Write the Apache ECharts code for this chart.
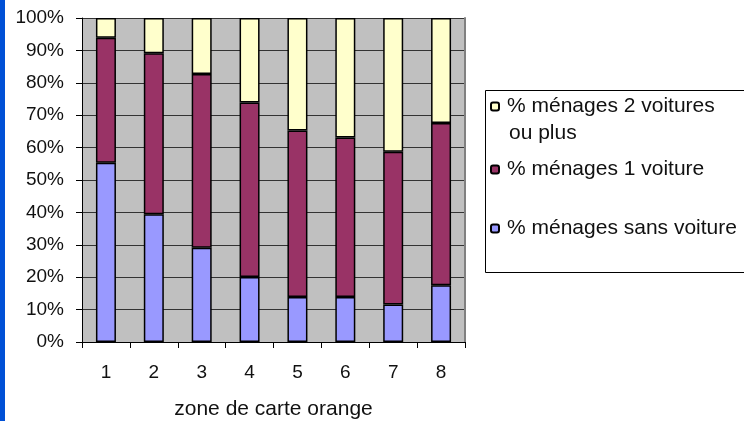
<!DOCTYPE html>
<html>
<head>
<meta charset="utf-8">
<script src="https://cdn.jsdelivr.net/npm/echarts@6/dist/echarts.min.js"></script>
<style>
  html, body { margin: 0; padding: 0; background: #ffffff; }
  #chart { width: 744px; height: 421px; }
</style>
</head>
<body>
<div id="chart"></div>
<script>
// zones de carte orange
const zones = ['1', '2', '3', '4', '5', '6', '7', '8'];
// parts en %
const sansVoiture = [55.3, 39.4, 29.1, 20.1, 13.9, 13.9, 11.6, 17.5];
const uneVoiture = [38.6, 49.7, 53.6, 53.8, 51.4, 49.2, 47.1, 50.1];
const deuxVoitures = [6.1, 10.9, 17.3, 26.1, 34.7, 36.9, 41.3, 32.4];

const font = 'Liberation Sans, Arial, sans-serif';

const chart = echarts.init(document.getElementById('chart'));

function barSerie(name, color, data) {
    return {
        name: name,
        type: 'bar',
        stack: 'total',
        barWidth: 20,
        data: data,
        itemStyle: { color: color, borderColor: '#000', borderWidth: 1.5 }
    };
}

function legendAt(name, top) {
    return {
        data: [name],
        left: 490,
        top: top,
        orient: 'vertical',
        itemWidth: 8,
        itemHeight: 8,
        itemGap: 0,
        padding: 0,
        textStyle: { fontFamily: font, fontSize: 21, color: '#111', padding: [0, 0, 0, 3] },
        selectedMode: false
    };
}

const options = {
    animation: false,
    backgroundColor: '#ffffff',
    grid: {
        left: 82,
        right: 279,
        top: 18,
        bottom: 79,
        outerBoundsMode: 'none',
        show: true,
        backgroundColor: '#c0c0c0',
        borderWidth: 0
    },
    legend: [
        legendAt('% ménages 2 voitures', 96),
        legendAt('% ménages 1 voiture', 159),
        legendAt('% ménages sans voiture', 218)
    ],
    xAxis: {
        type: 'category',
        data: zones,
        name: 'zone de carte orange',
        nameLocation: 'middle',
        nameGap: 57,
        nameTextStyle: { fontFamily: font, fontSize: 21, color: '#111' },
        axisLine: { lineStyle: { color: '#000', width: 1 } },
        axisTick: { show: true, length: 6, lineStyle: { color: '#000' } },
        axisLabel: { fontFamily: font, fontSize: 19, color: '#111', margin: 21 }
    },
    yAxis: [
        {
            type: 'value',
            min: 0,
            max: 100,
            interval: 10,
            axisLine: { show: true, lineStyle: { color: '#000', width: 1 } },
            axisTick: { show: true, length: 6, lineStyle: { color: '#000' } },
            axisLabel: { fontFamily: font, fontSize: 19, color: '#111', margin: 18, formatter: '{value}%' },
            splitLine: { show: true, lineStyle: { color: '#333', width: 1 } }
        },
        {
            type: 'value',
            position: 'right',
            min: 0,
            max: 100,
            interval: 10,
            axisLine: { show: true, lineStyle: { color: '#808080', width: 2 } },
            axisTick: { show: false },
            axisLabel: { show: false },
            splitLine: { show: false }
        }
    ],
    graphic: [
        { type: 'rect', left: 0, top: 0, shape: { width: 5, height: 421 }, style: { fill: '#0050d6' } },
        { type: 'rect', left: 483, top: 88, shape: { width: 270, height: 182 }, style: { fill: 'none', stroke: '#000', lineWidth: 1 } },
        { type: 'text', left: 509, top: 123, style: { text: 'ou plus', font: '21px ' + font, fill: '#111' } }
    ],
    series: [
        barSerie('% ménages sans voiture', '#9999ff', sansVoiture),
        barSerie('% ménages 1 voiture', '#993366', uneVoiture),
        barSerie('% ménages 2 voitures', '#ffffcc', deuxVoitures)
    ]
};

chart.setOption(options);
</script>
</body>
</html>
